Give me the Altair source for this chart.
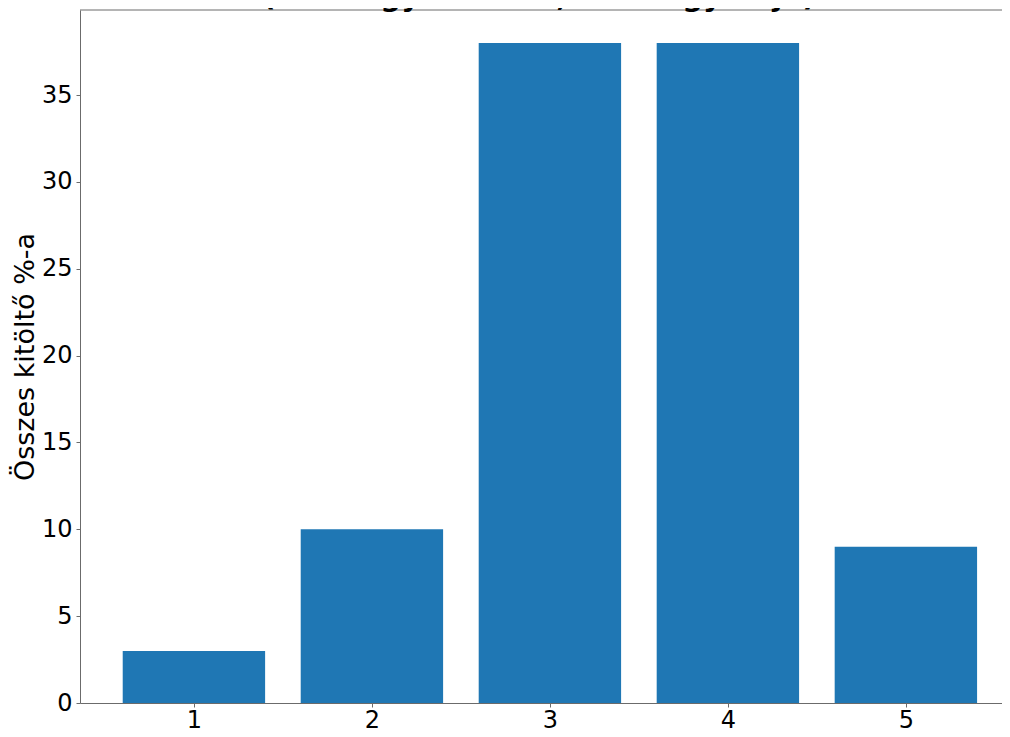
import altair as alt
import pandas as pd

categories = [1, 2, 3, 4, 5]
values = [3, 10, 38, 38, 9]
y_ticks = [0, 5, 10, 15, 20, 25, 30, 35]
title_text = "(1 = nagyon rossz, 5 = nagyon jó)"
y_title = "Összes kitöltő %-a"

df = pd.DataFrame({"cat": categories, "val": values})
tdf = pd.DataFrame({"t": [title_text]})

W, H = 922, 693
FONT = "DejaVu Sans"
FRAME = "#6b6b6b"

bars = alt.Chart(df).transform_calculate(
    x0="datum.cat - 0.4", x1="datum.cat + 0.4"
).mark_bar(color="#1f77b4").encode(
    x=alt.X("x0:Q", scale=alt.Scale(domain=[0.36, 5.54], nice=False, zero=False),
            axis=alt.Axis(values=categories, format="d", title=None, grid=False,
                          labelFontSize=24, labelFont=FONT, labelColor="black",
                          domainColor=FRAME, tickColor=FRAME, tickSize=4,
                          labelPadding=1)),
    x2="x1:Q",
    y=alt.Y("val:Q", scale=alt.Scale(domain=[0, 39.9], nice=False),
            axis=alt.Axis(values=y_ticks, title=y_title, grid=False,
                          labelFontSize=24, labelFont=FONT, labelColor="black",
                          domainColor=FRAME, tickColor=FRAME, tickSize=4,
                          labelPadding=4, titleFontSize=27, titleFont=FONT,
                          titleFontWeight="normal", titleColor="black",
                          titleX=-55, titleY=H / 2, titleAngle=270,
                          titleAlign="center", titleBaseline="middle")),
    y2=alt.datum(0),
)

top_rule = alt.Chart(tdf).mark_rule(color=FRAME, strokeWidth=1).encode(
    x=alt.value(0), x2=alt.value(W), y=alt.value(0)
)

title = alt.Chart(tdf).mark_text(
    font=FONT, fontSize=29, fontWeight="bold", color="black",
    align="center", baseline="alphabetic"
).encode(x=alt.value(459), y=alt.value(-4), text="t:N")

chart = alt.layer(bars, top_rule, title).properties(
    width=W, height=H,
    autosize=alt.AutoSizeParams(type="none"),
    padding={"left": 72, "top": 2, "right": 0, "bottom": 26},
).configure_view(stroke=None)

chart.save("out.html", embed_options={"renderer": "svg", "actions": False})
